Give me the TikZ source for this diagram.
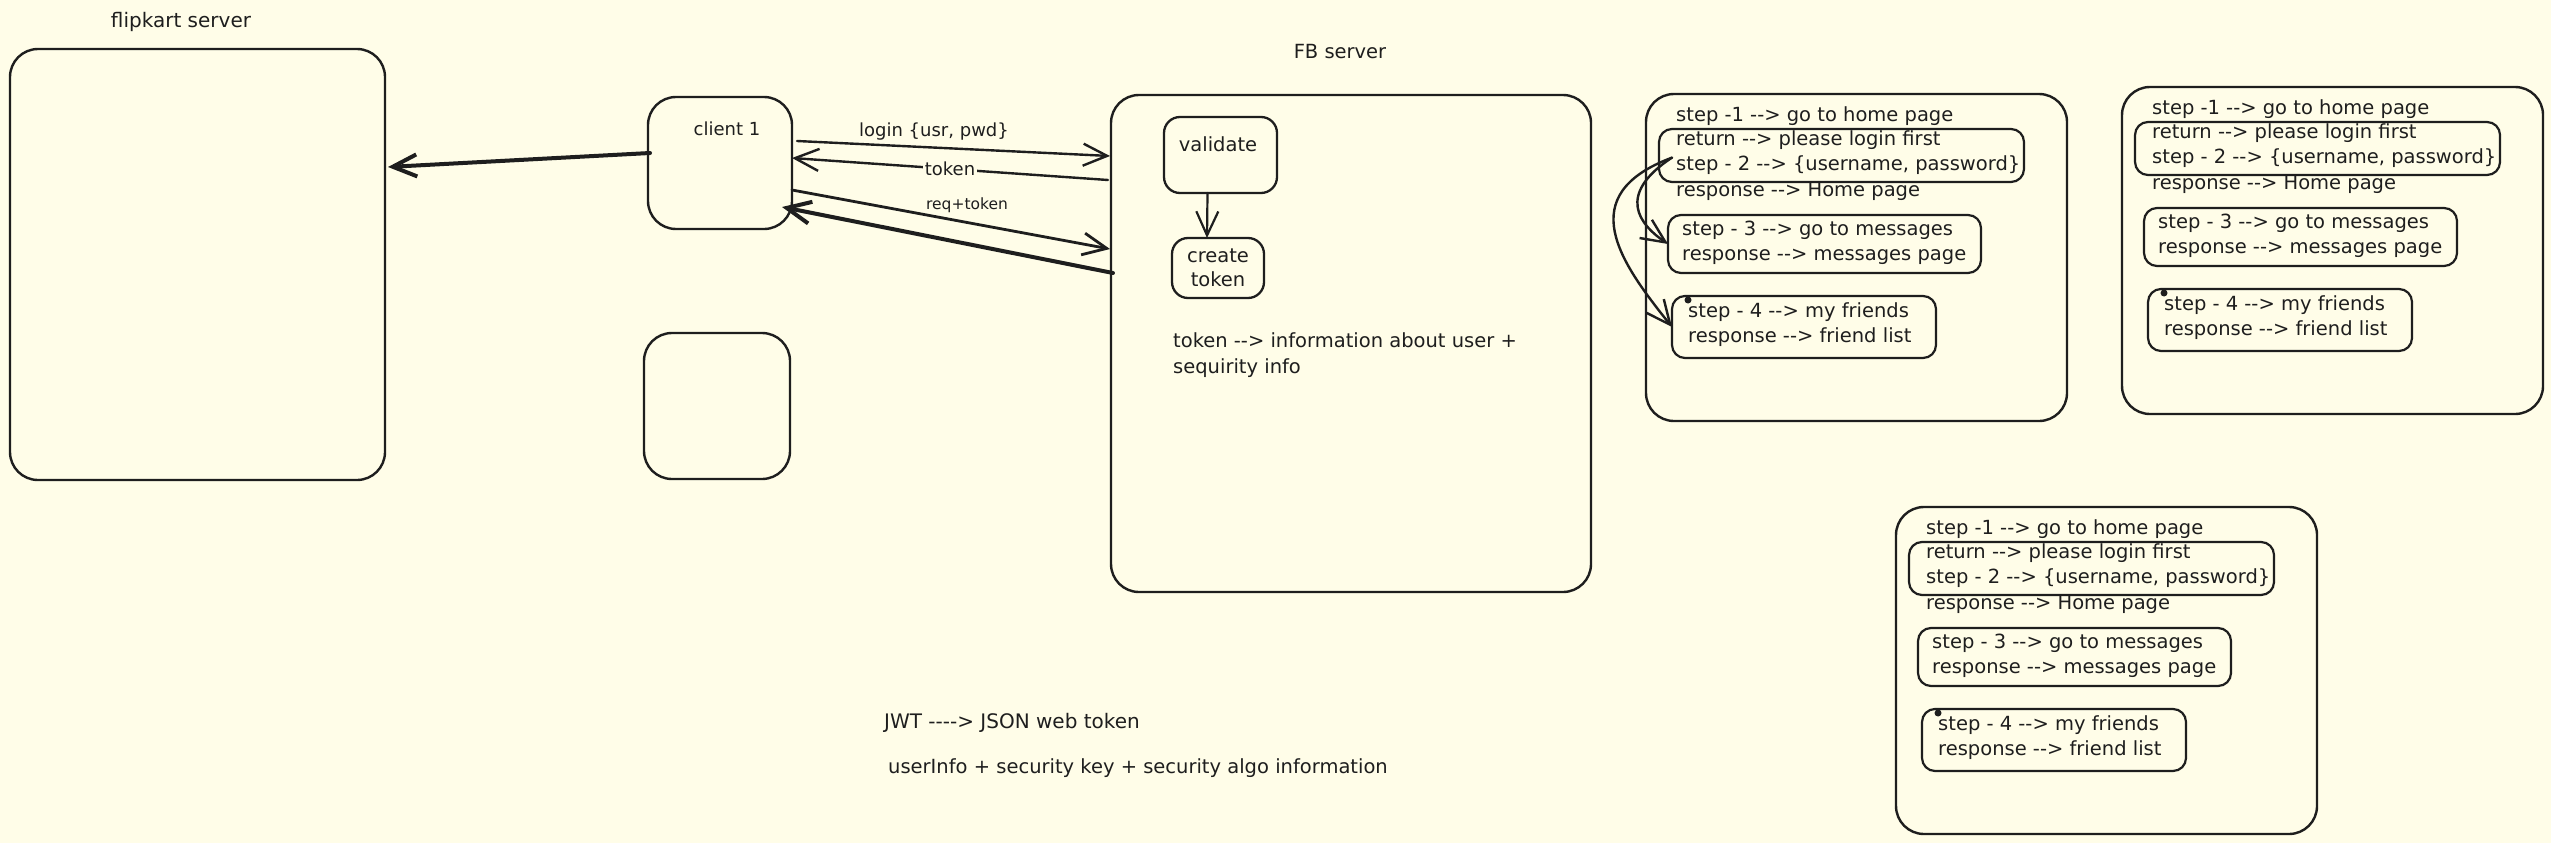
\documentclass[tikz,border=0pt]{standalone}
\usepackage{fontspec}
\setmainfont{DejaVu Sans}
\usetikzlibrary{arrows.meta,calc}
\definecolor{bg}{HTML}{FFFDE8}
\definecolor{ink}{HTML}{1E1E1E}
\tikzset{
  rbox/.style={draw=ink, line width=2.4pt, rounded corners=28pt, inner sep=0pt, outer sep=0pt},
  sbox/.style={draw=ink, line width=2.3pt, rounded corners=16pt, inner sep=0pt, outer sep=0pt},
  mbox/.style={draw=ink, line width=2.2pt, rounded corners=13pt, inner sep=0pt, outer sep=0pt},
  txt/.style={font=\fontsize{19.5}{25}\selectfont, text=ink, inner sep=0pt, anchor=base west},
  lbl/.style={font=\fontsize{18}{22}\selectfont, text=ink, inner sep=0pt, anchor=base},
  slbl/.style={font=\fontsize{15.5}{19}\selectfont, text=ink, inner sep=0pt, anchor=base},
  arr/.style={draw=ink, line width=2.4pt, line cap=round, -{Straight Barb[length=24pt,width=22pt]}},
  thickarr/.style={arr, line width=4pt},
  dotmark/.style={circle, fill=ink, inner sep=0pt, minimum size=7pt},
}
\newcommand{\StepPanel}[3]{%
  \begin{scope}[shift={(#2,#3)}]
    \node[rbox, minimum width=421pt, minimum height=327pt, anchor=north west] (#1-big) at (0,0) {};
    \node[mbox, minimum width=365pt, minimum height=53pt, anchor=north west] (#1-b1) at (13,35) {};
    \node[mbox, minimum width=313pt, minimum height=58pt, anchor=north west] (#1-b2) at (22,121) {};
    \node[mbox, minimum width=264pt, minimum height=62pt, anchor=north west] (#1-b3) at (26,202) {};
    \node[txt] (#1-s1) at (30,27) {step -1 -{}-> go to home page};
    \node[txt] (#1-ret) at (30,51) {return -{}-> please login first};
    \node[txt] (#1-s2) at (30,76) {step - 2 -{}-> \{username, password\}};
    \node[txt] (#1-r2) at (30,102) {response -{}-> Home page};
    \node[txt] (#1-s3) at (36,141) {step - 3 -{}-> go to messages};
    \node[txt] (#1-r3) at (36,166) {response -{}-> messages page};
    \node[dotmark] (#1-dot) at (42,206) {};
    \node[txt] (#1-s4) at (42,223) {step - 4 -{}-> my friends};
    \node[txt] (#1-r4) at (42,248) {response -{}-> friend list};
  \end{scope}}
\begin{document}
\begin{tikzpicture}[x=1pt,y=-1pt]
  \fill[bg] (0,0) rectangle (2551,843);
  \useasboundingbox (0,0) rectangle (2551,843);

  % flipkart server
  \node[rbox, minimum width=375pt, minimum height=431pt, anchor=north west] (flip) at (10,49) {};
  \node[txt, anchor=base, font=\fontsize{20}{25}\selectfont] (fliplbl) at (181,28) {flipkart server};

  % clients
  \node[rbox, minimum width=144pt, minimum height=132pt, anchor=north west] (cl) at (648,97) {};
  \node[lbl] (cllbl) at (727,135) {client 1};
  \node[rbox, minimum width=146pt, minimum height=146pt, anchor=north west] (cl2) at (644,333) {};

  % FB server
  \node[rbox, minimum width=480pt, minimum height=497pt, anchor=north west] (fb) at (1111,95) {};
  \node[txt, anchor=base] (fblbl) at (1340,59) {FB server};
  \node[sbox, minimum width=113pt, minimum height=76pt, anchor=north west] (val) at (1164,117) {};
  \node[txt, anchor=base] (vallbl) at (1218,151) {validate};
  \node[sbox, minimum width=92pt, minimum height=60pt, anchor=north west] (ct) at (1172,238) {};
  \node[txt, anchor=center, align=center, font=\fontsize{19.5}{24}\selectfont] (cttxt) at (ct.center) {create\\token};
  \draw[arr, line width=2.2pt] ([xshift=-13pt]val.south) -- ([xshift=-11pt]ct.north);
  \node[txt] (info1) at (1173,347) {token -{}-> information about user +};
  \node[txt] (info2) at (1173,373) {sequirity info};

  % arrows client <-> FB
  \draw[arr] ([shift={(5,-22)}]cl.east) -- ([shift={(-1,-187.5)}]fb.west);
  \node[lbl] (loginlbl) at (934,136) {login \{usr, pwd\}};
  \draw[arr] ([shift={(-3,-163.5)}]fb.west) -- node[lbl, anchor=center, fill=bg, inner xsep=2pt, inner ysep=1pt] (toklbl) {token} ([shift={(0,-5)}]cl.east);
  \draw[arr, line width=2.8pt] ([shift={(0,27)}]cl.east) -- ([shift={(-1,-94.5)}]fb.west);
  \node[slbl] (reqlbl) at (967,209) {req+token};
  \draw[thickarr] ([shift={(2,-70.5)}]fb.west) -- ([shift={(-10,44)}]cl.east);

  % client -> flipkart
  \draw[thickarr] ([shift={(2,-10)}]cl.west) -- ([shift={(3,-97.5)}]flip.east);

  % step panels
  \StepPanel{p1}{1646}{94}
  \StepPanel{p2}{2122}{87}
  \StepPanel{p3}{1896}{507}

  \draw[arr] ([shift={(-4,-7)}]p1-s2.west) .. controls (1615,195) and (1640,225) .. (p1-b2.west);
  \draw[arr] ([shift={(-4,-7)}]p1-s2.west) .. controls (1572,195) and (1620,262) .. (p1-b3.west);

  % notes
  \node[txt, font=\fontsize{20}{25}\selectfont] (jwt) at (884,728) {JWT -{}-{}-{}-> JSON web token};
  \node[txt] (uinfo) at (888,773) {userInfo + security key + security algo information};
\end{tikzpicture}
\end{document}
